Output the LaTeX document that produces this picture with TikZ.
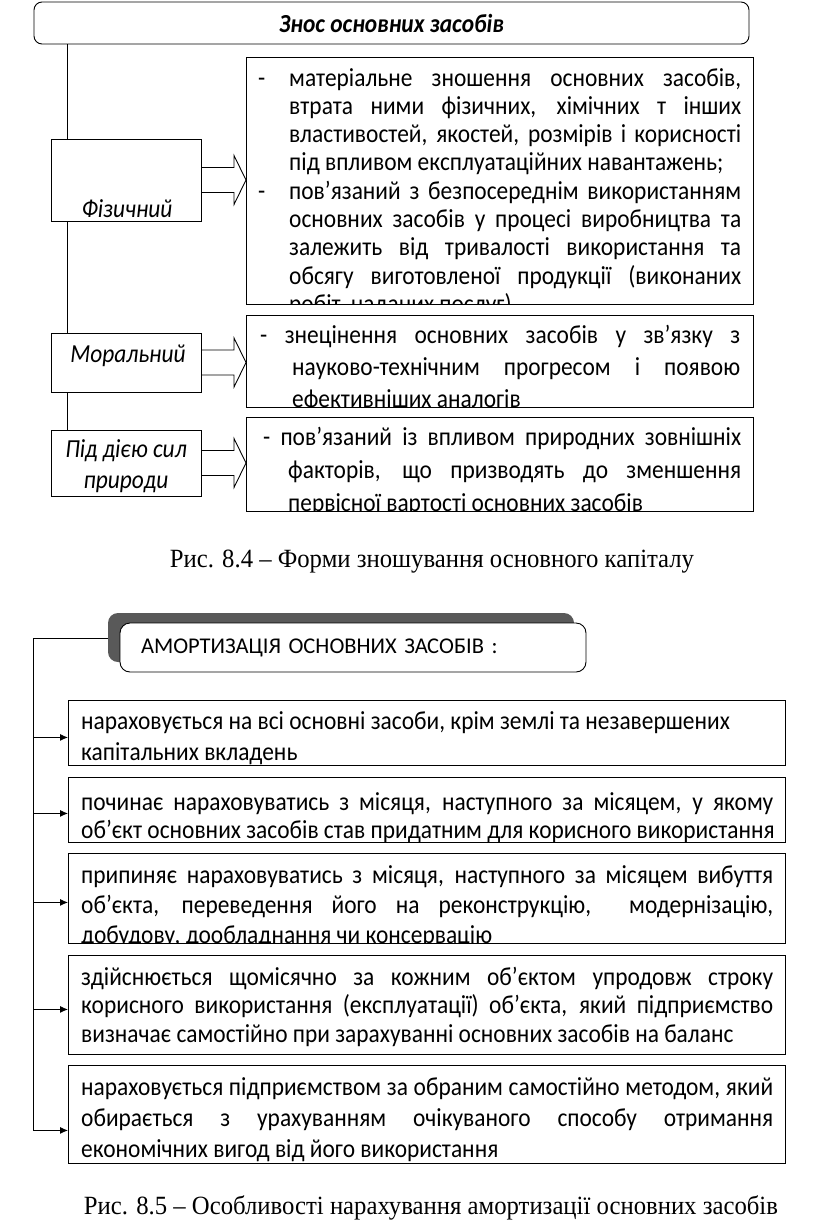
\documentclass[tikz,border=0pt]{standalone}
\usepackage{fontspec}
\setmainfont{Carlito}[FakeStretch=0.9]
\newfontfamily\hdrfont{Carlito}
\newfontfamily\capfont{Liberation Serif}[FakeStretch=0.94]
\usetikzlibrary{arrows.meta,positioning,calc,shadows}

% justified line of given width
\newcommand\jl[2]{\makebox[#1pt][s]{#2}}
\newcommand\dsh{\makebox[31pt][l]{-}}
\newcommand\ind{\hspace*{31pt}}
\newcommand\txtrows[1]{\begin{tabular}[t]{@{}l@{}}#1\end{tabular}}
% fat outline arrow from a kind box to its description
\newcommand\fatarrow[2]{%
  \draw[fat] let \p1=(#1.east), \p2=(#2.west) in
    (\x1,\y1+12.5pt) -- (\x2-12pt,\y1+12.5pt) -- (\x2-12pt,\y1+24.5pt)
    -- (\x2,\y1) -- (\x2-12pt,\y1-24.5pt) -- (\x2-12pt,\y1-12.5pt)
    -- (\x1,\y1-12.5pt);}

\begin{document}
\begin{tikzpicture}[x=1pt, y=-1pt,
  conn/.style={draw, line width=0.9pt},
  fat/.style={line width=0.9pt},
  smallarr/.style={line width=0.9pt, -{Latex[length=8pt,width=7pt]}},
  titlebox/.style={draw, line width=0.9pt, rounded corners=8pt, fill=white, inner sep=0pt},
  kindbox/.style={draw, line width=0.9pt, fill=white, inner sep=0pt, minimum width=150pt},
  kindtxt/.style={font=\fontsize{26}{31}\selectfont\itshape, inner sep=0pt, anchor=base},
  framebox/.style={draw, line width=0.9pt, inner sep=0pt, anchor=north west},
  desc/.style={inner sep=0pt, anchor=base west},
  captxt/.style={font=\capfont\fontsize{26.3}{30}\selectfont, inner sep=0pt, anchor=base}
]
\useasboundingbox (0,0) rectangle (816,1221);

% ---------- Fig. 8.4 ----------
\node[titlebox, minimum width=715pt, minimum height=42pt,
      font=\fontsize{26}{30}\selectfont\bfseries\itshape] (znos) at (391.5,23) {Знос основних засобів};
\coordinate (sp) at (67,0);

\node[kindbox, minimum height=82pt] (fiz) at (126,180) {};
\node[kindbox, minimum height=59pt] (mor) at (126,362.5) {};
\node[kindbox, minimum height=66pt] (prir) at (126,463) {};
\draw[conn] (znos.south -| sp) -- (fiz.north -| sp);
\draw[conn] (fiz.south -| sp) -- (mor.north -| sp);
\draw[conn] (mor.south -| sp) -- (prir.north -| sp);
\node[kindtxt] (fizt) at (127,217) {Фізичний};
\node[kindtxt] (mort) at (128,362) {Моральний};
\node[kindtxt] (prirt) at (126,457) {\begin{tabular}[t]{@{}c@{}}Під дією сил\\природи\end{tabular}};

\node[framebox, minimum width=507pt, minimum height=247pt] (d1) at (246,57) {};
\node[framebox, minimum width=507pt, minimum height=92pt] (d2) at (246,315) {};
\node[framebox, minimum width=507pt, minimum height=94pt] (d3) at (246,417) {};

\begin{scope}
\clip (d1.north west) rectangle (d1.south east);
\node[desc, font=\fontsize{26}{28.3}\selectfont] (d1t) at (258,86) {\txtrows{%
\dsh\jl{452}{матеріальне зношення основних засобів,}\\
\ind\jl{452}{втрата ними фізичних, хімічних т інших}\\
\ind\jl{452}{властивостей, якостей, розмірів і корисності}\\
\ind під впливом експлуатаційних навантажень;\\
\dsh\jl{452}{пов'язаний з безпосереднім використанням}\\
\ind\jl{452}{основних засобів у процесі виробництва та}\\
\ind\jl{452}{залежить від тривалості використання та}\\
\ind\jl{452}{обсягу виготовленої продукції (виконаних}\\
\ind робіт, наданих послуг)}};
\end{scope}
\begin{scope}
\clip (d2.north west) rectangle (d2.south east);
\node[desc, font=\fontsize{26}{32}\selectfont] (d2t) at (260,343) {\txtrows{%
\jl{480}{- знецінення основних засобів у зв’язку з}\\
\hspace*{32pt}\jl{448}{науково-технічним прогресом і появою}\\
\hspace*{32pt}ефективніших аналогів}};
\end{scope}
\begin{scope}
\clip (d3.north west) rectangle (d3.south east);
\node[desc, font=\fontsize{26}{33}\selectfont] (d3t) at (263,445) {\txtrows{%
\jl{478}{- пов'язаний із впливом природних зовнішніх}\\
\hspace*{25pt}\jl{453}{факторів, що призводять до зменшення}\\
\hspace*{25pt}первісної вартості основних засобів}};
\end{scope}

\fatarrow{fiz}{d1}
\fatarrow{mor}{d2}
\fatarrow{prir}{d3}

\node[captxt] (cap1) at (432,567) {Рис. 8.4 – Форми зношування основного капіталу};

% ---------- Fig. 8.5 ----------
\node[titlebox, rounded corners=10pt, minimum width=466pt, minimum height=49pt,
      text width=424pt, align=left, font=\hdrfont\fontsize{22.5}{26}\selectfont,
      drop shadow={shadow xshift=-12pt, shadow yshift=10pt, fill=black!65, opacity=1}]
      (amort) at (353,647.5) {АМОРТИЗАЦІЯ ОСНОВНИХ ЗАСОБІВ :};
\coordinate (sp2) at (33,638);

\node[framebox, minimum width=717pt, minimum height=65pt] (b1) at (68,700) {};
\node[framebox, minimum width=717pt, minimum height=65pt] (b2) at (68,777) {};
\node[framebox, minimum width=717pt, minimum height=90pt] (b3) at (68,853) {};
\node[framebox, minimum width=717pt, minimum height=99pt] (b4) at (68,955) {};
\node[framebox, minimum width=717pt, minimum height=98pt] (b5) at (68,1065) {};

\node[desc, font=\fontsize{26}{31}\selectfont] (b1t) at (81,729) {\txtrows{%
нараховується на всі основні засоби, крім землі та незавершених\\
капітальних вкладень}};
\begin{scope}
\clip (b2.north west) rectangle (b2.south east);
\node[desc, font=\fontsize{26}{28.5}\selectfont] (b2t) at (81,810) {\txtrows{%
\jl{692}{починає нараховуватись з місяця, наступного за місяцем, у якому}\\
об’єкт основних засобів став придатним для корисного використання}};
\end{scope}
\begin{scope}
\clip (b3.north west) rectangle (b3.south east);
\node[desc, font=\fontsize{26}{30}\selectfont] (b3t) at (81,883) {\txtrows{%
\jl{692}{припиняє нараховуватись з місяця, наступного за місяцем вибуття}\\
\jl{692}{об’єкта, переведення його на реконструкцію,\ \ модернізацію,}\\
добудову, дообладнання чи консервацію}};
\end{scope}
\node[desc, font=\fontsize{26}{28.5}\selectfont] (b4t) at (81,985) {\txtrows{%
\jl{692}{здійснюється щомісячно за кожним об’єктом упродовж строку}\\
\jl{692}{корисного використання (експлуатації) об’єкта, який підприємство}\\
визначає самостійно при зарахуванні основних засобів на баланс}};
\node[desc, font=\fontsize{26}{31}\selectfont] (b5t) at (81,1095) {\txtrows{%
\jl{692}{нараховується підприємством за обраним самостійно методом, який}\\
\jl{692}{обирається з урахуванням очікуваного способу отримання}\\
економічних вигод від його використання}};

\coordinate (a1) at ($(b1.west)+(0,4.5)$);
\coordinate (a2) at ($(b2.west)+(0,3.5)$);
\coordinate (a3) at ($(b3.west)+(0,4)$);
\coordinate (a4) at ($(b4.west)+(0,4.5)$);
\coordinate (a5) at ($(b5.west)+(0,16)$);
\draw[conn] ($(amort.west)+(-12,-9.5)$) -- (sp2) -- (sp2 |- a5);
\foreach \a in {a1,a2,a3,a4,a5}
  \draw[smallarr] (sp2 |- \a) -- (\a);

\node[captxt] (cap2) at (431,1214) {Рис. 8.5 – Особливості нарахування амортизації основних засобів};
\end{tikzpicture}
\end{document}
